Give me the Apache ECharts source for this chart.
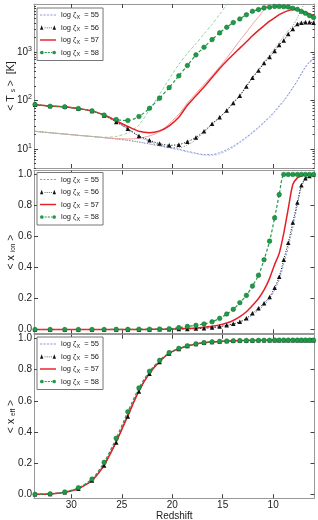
<!DOCTYPE html>
<html><head><meta charset="utf-8">
<script src="https://cdn.jsdelivr.net/npm/echarts@6/dist/echarts.min.js"></script>
<style>html,body{margin:0;padding:0;background:#fff}#c{width:318px;height:520px}</style>
</head><body><div id="c"></div>
<script>
// ---------- data ----------
const zGrid = [33.6, 32.1, 30.65, 29.3, 27.95, 26.75, 25.55, 24.4, 23.3, 22.25, 21.25, 20.3, 19.35, 18.5, 17.65, 16.85, 16.05, 15.3, 14.6, 13.95, 13.3, 12.65, 12.05, 11.45, 10.9, 10.35, 9.85, 9.4, 8.95, 8.5, 8.05, 7.6, 7.2, 6.8, 6.4, 6.0];
const zTicks = [10, 15, 20, 25, 30];
const tempTicks = [10, 100, 1000];
const fracTicks = [0, 0.2, 0.4, 0.6, 0.8, 1.0];
const models = ['55', '56', '57', '58'];

// spin temperature <T_s> [K] (thick curves)
const Ts55 = [82, 77, 74, 68, 61, 49, 36, 25.5, 18, 14.2, 12, 10.7, 9.8, 8.9, 8.1, 7.6, 7.6, 8.3, 9.6, 11.4, 14, 17.5, 22, 28, 36, 46, 60, 78, 100, 135, 185, 260, 360, 490, 620, 720];
const Ts56 = [82, 77, 74, 68, 61, 49, 36, 26, 18.5, 15, 12.8, 11.8, 12.2, 14, 17.2, 23, 33, 45, 62, 89, 125, 195, 295, 420, 600, 800, 1060, 1420, 1750, 2400, 3050, 3850, 4100, 4200, 4200, 4100];
const Ts57 = [82, 77, 74, 68, 61, 50, 38, 29, 23, 21.5, 23.5, 30, 45, 80, 125, 190, 300, 460, 660, 900, 1220, 1650, 2200, 2850, 3550, 4400, 5200, 6000, 6700, 7300, 7650, 7650, 7300, 6800, 6200, 5700];
const Ts58 = [82.7, 76, 74, 68, 61, 50, 40.4, 38.5, 46.6, 69, 112, 185, 325, 531, 883, 1270, 1830, 2520, 3300, 4120, 4900, 6000, 7060, 7650, 8300, 8550, 8900, 8900, 8800, 8700, 8150, 7760, 6970, 6410, 5750, 5270];
// kinetic temperature (thin companion curves)
const Tk55 = [23, 21.5, 20.2, 19, 18, 17, 16, 15, 13.8, 12.6, 11.5, 10.4, 9.5, 8.6, 7.9, 7.4, 7.3, 7.8, 9.0, 10.8, 13.3, 16.8, 21, 27, 34.5, 44, 57, 74, 96, 130, 180, 255, 360, 500, 640, 760];
const Tk56 = [23, 21.5, 20.2, 19, 18, 17, 16, 15, 13.8, 12.6, 11.5, 10.6, 10.5, 12, 15.5, 22, 32, 45, 63, 92, 130, 200, 305, 435, 620, 880, 1200, 1600, 2100, 2800, 3500, 5200, 7800, 11500, null, null];
const Tk57 = [23, 21.5, 20.2, 19, 18, 17, 16.3, 16, 16.5, 18.5, 22.5, 33, 52, 88, 140, 215, 330, 500, 760, 1150, 1750, 2600, 3800, 5400, 7600, 10800, 15000, null, null, null, null, null, null, null, null, null];
const Tk58 = [23, 21.5, 20.2, 19, 18, 17.3, 18, 21.5, 31, 65, 135, 280, 560, 950, 1500, 2400, 3800, 6100, 9800, 15000, null, null, null, null, null, null, null, null, null, null, null, null, null, null, null, null];

// ionized fraction <x_ion>
const Xion55 = [0, 0, 0, 0, 0, 0, 0, 0, 0, 0, 0.001, 0.002, 0.003, 0.004, 0.005, 0.008, 0.012, 0.017, 0.024, 0.033, 0.045, 0.065, 0.095, 0.125, 0.158, 0.198, 0.255, 0.32, 0.42, 0.53, 0.66, 0.80, 0.92, 0.97, 0.99, 1.0];
const Xion56 = [0, 0, 0, 0, 0, 0, 0, 0, 0, 0, 0.001, 0.002, 0.003, 0.004, 0.006, 0.009, 0.013, 0.019, 0.027, 0.037, 0.05, 0.072, 0.105, 0.137, 0.17, 0.21, 0.27, 0.34, 0.45, 0.56, 0.69, 0.82, 0.93, 0.975, 0.99, 1.0];
const Xion57 = [0, 0, 0, 0, 0, 0, 0, 0, 0, 0.001, 0.002, 0.003, 0.005, 0.007, 0.01, 0.015, 0.021, 0.03, 0.042, 0.058, 0.083, 0.115, 0.155, 0.2, 0.255, 0.33, 0.42, 0.49, 0.62, 0.78, 0.935, 0.978, 0.99, 0.998, 1.0, 1.0];
const Xion58 = [0, 0, 0, 0, 0, 0, 0.001, 0.001, 0.002, 0.002, 0.003, 0.005, 0.012, 0.02, 0.027, 0.036, 0.05, 0.072, 0.10, 0.13, 0.173, 0.22, 0.28, 0.35, 0.45, 0.57, 0.72, 0.87, 1.0, 1.0, 1.0, 1.0, 1.0, 1.0, 1.0, 1.0];

// effective fraction <x_eff>
const Xeff55 = [0, 0.002, 0.014, 0.039, 0.093, 0.195, 0.345, 0.515, 0.67, 0.782, 0.855, 0.907, 0.935, 0.953, 0.965, 0.973, 0.978, 0.982, 0.984, 0.986, 0.987, 0.988, 0.988, 0.989, 0.989, 0.989, 0.99, 0.99, 0.99, 0.99, 0.99, 0.99, 0.99, 0.99, 0.99, 0.99];
const Xeff56 = [0, 0.002, 0.013, 0.036, 0.088, 0.185, 0.333, 0.50, 0.66, 0.775, 0.85, 0.905, 0.933, 0.952, 0.965, 0.973, 0.978, 0.982, 0.984, 0.986, 0.987, 0.988, 0.988, 0.989, 0.989, 0.989, 0.99, 0.99, 0.99, 0.99, 0.99, 0.99, 0.99, 0.99, 0.99, 0.99];
const Xeff57 = [0, 0.002, 0.013, 0.037, 0.09, 0.188, 0.338, 0.505, 0.664, 0.778, 0.852, 0.906, 0.934, 0.952, 0.965, 0.973, 0.978, 0.982, 0.984, 0.986, 0.987, 0.988, 0.988, 0.989, 0.989, 0.989, 0.99, 0.99, 0.99, 0.99, 0.99, 0.99, 0.99, 0.99, 0.99, 0.99];
const Xeff58 = [0, 0.003, 0.015, 0.042, 0.098, 0.205, 0.36, 0.53, 0.683, 0.79, 0.86, 0.91, 0.937, 0.954, 0.966, 0.974, 0.979, 0.982, 0.984, 0.986, 0.987, 0.988, 0.988, 0.989, 0.989, 0.989, 0.99, 0.99, 0.99, 0.99, 0.99, 0.99, 0.99, 0.99, 0.99, 0.99];

// ---------- chart ----------
const FONT = '"Liberation Sans", Arial, sans-serif';
const STY = {
  '55': {color: '#8c9cdb', thin: '#b3bdea', dash: [2, 1.5], symbol: 'none', size: 0, width: 1},
  '56': {color: '#111111', thin: '#777777', dash: [1, 1.5], symbol: 'triangle', size: 4.5, width: 1},
  '57': {color: '#e41f26', thin: '#f39494', dash: 'solid', symbol: 'none', size: 0, width: 1.5},
  '58': {color: '#1f9b48', thin: '#7dd197', dash: [3, 2], symbol: 'circle', size: 4.6, width: 1.2}
};
// legend glyphs in the style of a two-point line legend
const ICON = {
  '55': 'path://M0,4h2.5v1.2h-2.5zM4,4h2.5v1.2h-2.5zM8,4h2.5v1.2h-2.5zM12,4h2.5v1.2h-2.5zM16,4h2.5v1.2h-2.5z',
  '56': 'path://M0,7L2,1.8L4,7zM15,7L17,1.8L19,7zM5.5,4.3h1v1h-1zM8,4.3h1v1h-1zM10.5,4.3h1v1h-1zM13,4.3h1v1h-1z',
  '57': 'path://M0,3.8h19v1.7h-19z',
  '58': 'path://M0,4.6a2.2,2.2 0 1,0 4.4,0a2.2,2.2 0 1,0 -4.4,0zM14.6,4.6a2.2,2.2 0 1,0 4.4,0a2.2,2.2 0 1,0 -4.4,0zM5.6,4h2.4v1.2h-2.4zM9.3,4h2.4v1.2h-2.4zM13,4h1.2v1.2h-1.2z'
};
const grids = [
  {left: 34, right: 3.5, top: 4, height: 164, outerBoundsMode: 'none', containLabel: false},
  {left: 34, right: 3.5, top: 170.6, height: 162.8, outerBoundsMode: 'none', containLabel: false},
  {left: 34, right: 3.5, top: 334.7, height: 163.5, outerBoundsMode: 'none', containLabel: false}
];
const AXC = '#999';
const TICKC = '#444';

const xAxis = [], yAxis = [];
grids.forEach((g, gi) => {
  ['bottom', 'top'].forEach(pos => {
    xAxis.push({
      type: 'value', gridIndex: gi, position: pos, inverse: true, min: 5.9, max: 33.7,
      axisLine: {show: true, onZero: false, lineStyle: {color: AXC, width: 1}},
      axisTick: {show: true, inside: true, length: 4, customValues: zTicks, lineStyle: {color: TICKC}},
      axisLabel: {show: gi === 2 && pos === 'bottom', customValues: zTicks, fontSize: 10, color: '#222', fontFamily: FONT, margin: 2},
      splitLine: {show: false},
      name: (gi === 2 && pos === 'bottom') ? 'Redshift' : '',
      nameLocation: 'middle', nameGap: 13,
      nameTextStyle: {fontSize: 10, color: '#222', fontFamily: FONT}
    });
  });
});
const yNames = ['< T {sub|s} >  [K]', '< x {sub|ion} >', '< x {sub|eff} >'];
grids.forEach((g, gi) => {
  ['left', 'right'].forEach(pos => {
    const isLog = gi === 0;
    const ax = {
      gridIndex: gi, position: pos,
      axisLine: {show: true, onZero: false, lineStyle: {color: AXC, width: 1}},
      axisTick: {show: true, inside: true, length: 4, customValues: isLog ? tempTicks : fracTicks, lineStyle: {color: TICKC}},
      axisLabel: {
        show: pos === 'left', customValues: isLog ? tempTicks : fracTicks, fontSize: 10, color: '#222', fontFamily: FONT, margin: 2,
        formatter: isLog ? (v => '10{sup|' + Math.round(Math.log10(v)) + '}') : (v => v.toFixed(1)),
        rich: {sup: {fontSize: 7, color: '#222', fontFamily: FONT, padding: [0, 0, 6, 0]}}
      },
      splitLine: {show: false},
      name: pos === 'left' ? yNames[gi] : '',
      nameLocation: 'middle', nameRotate: 90, nameGap: 17, nameMoveOverlap: false,
      nameTextStyle: {fontSize: 10.5, color: '#222', fontFamily: FONT,
        rich: {sub: {fontSize: 6.5, color: '#222', fontFamily: FONT, padding: [5, 0, 0, 0]}}}
    };
    if (isLog) { ax.type = 'log'; ax.logBase = 10; ax.min = 4; ax.max = 10000; }
    else { ax.type = 'value'; ax.min = -0.025; ax.max = 1.025; }
    yAxis.push(ax);
  });
});
// minor log ticks for the temperature panel
const minorT = [];
[1, 10, 100, 1000].forEach(d => { for (let k = 2; k <= 9; k++) { const v = k * d; if (v >= 4 && v < 10000) minorT.push(v); } });
['left', 'right'].forEach(pos => {
  yAxis.push({
    type: 'log', logBase: 10, min: 4, max: 10000, gridIndex: 0, position: pos,
    axisLine: {show: false}, axisLabel: {show: false}, splitLine: {show: false},
    axisTick: {show: true, inside: true, length: 2, customValues: minorT, lineStyle: {color: TICKC}}
  });
});

function pts(vals) { return zGrid.map((z, i) => [z, vals[i] == null ? '-' : vals[i]]); }
function mk(model, gi, vals, thin) {
  const s = STY[model];
  const col = thin ? s.thin : s.color;
  return {
    type: 'line', name: thin ? model + 'k' : model,
    xAxisIndex: gi * 2, yAxisIndex: gi * 2,
    data: pts(vals), smooth: 0.25, connectNulls: false, clip: true,
    symbol: thin ? 'none' : s.symbol, symbolSize: s.size, showSymbol: !thin && s.symbol !== 'none',
    lineStyle: {color: col, width: thin ? 0.9 : s.width, type: s.dash},
    itemStyle: {color: s.color, borderColor: model === '58' ? '#0d6b2e' : s.color, borderWidth: model === '58' ? 0.5 : 0},
    silent: true, animation: false, z: thin ? 2 : 3
  };
}
const TsArr = {'55': Ts55, '56': Ts56, '57': Ts57, '58': Ts58};
const TkArr = {'55': Tk55, '56': Tk56, '57': Tk57, '58': Tk58};
const XionArr = {'55': Xion55, '56': Xion56, '57': Xion57, '58': Xion58};
const XeffArr = {'55': Xeff55, '56': Xeff56, '57': Xeff57, '58': Xeff58};

const series = [];
models.forEach(m => series.push(mk(m, 0, TsArr[m], false)));
models.forEach(m => series.push(mk(m, 0, TkArr[m], true)));
models.forEach(m => series.push(mk(m, 1, XionArr[m], false)));
models.forEach(m => series.push(mk(m, 2, XeffArr[m], false)));

const legendTops = [8, 172.5, 337];
const legend = legendTops.map(t => ({
  data: models.map(m => ({name: m, icon: ICON[m], itemStyle: {color: STY[m].color, borderWidth: 0}})),
  orient: 'vertical', left: 37, top: t,
  itemWidth: 16, itemHeight: 5, itemGap: 3.5, padding: [3, 4, 3, 3],
  borderColor: '#777', borderWidth: 1, backgroundColor: '#fff', borderRadius: 0,
  selectedMode: false,
  formatter: n => 'log ζ{sub|X}  = ' + n,
  textStyle: {fontSize: 7.5, color: '#222', fontFamily: FONT, lineHeight: 8,
    rich: {sub: {fontSize: 5.5, color: '#222', fontFamily: FONT, padding: [4, 0, 0, 0]}}}
}));

const chart = echarts.init(document.getElementById('c'), null, {renderer: 'canvas'});
chart.setOption({
  animation: false, backgroundColor: '#fff',
  grid: grids, xAxis: xAxis, yAxis: yAxis, legend: legend, series: series
});
</script></body></html>
